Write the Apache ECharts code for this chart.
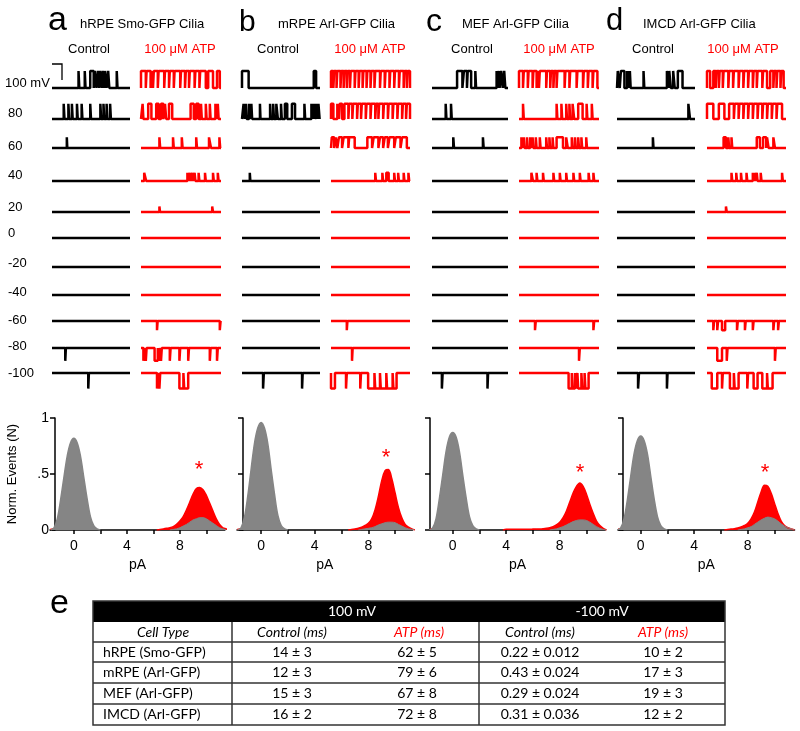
<!DOCTYPE html>
<html lang="en">
<head>
<meta charset="UTF-8">
<title>Cilia channel recordings</title>
<script src="https://cdn.jsdelivr.net/npm/echarts@6/dist/echarts.min.js"></script>
<style>
  html, body { margin: 0; padding: 0; background: #fff; }
  #main { width: 800px; height: 731px; }
</style>
</head>
<body>
<div id="main"></div>
<script>
// ---- trace data: open intervals (time 0..100) per voltage row ----
var voltages = ['100 mV', '80', '60', '40', '20', '0', '-20', '-40', '-60', '-80', '-100'];
var rowAmp = [9.3, 8.3, 5.8, 4.5, 3, 0, -1.5, -3, -5, -7, -8.5];   // pA, unitary current

function openExcept(closings) {
  var ivs = [], t = 0;
  closings.forEach(function (c) { if (c[0] > t) ivs.push([t, c[0]]); t = c[1]; });
  if (t < 100) ivs.push([t, 100]);
  return ivs;
}

var aCtrl = [
  [[34,35],[42,43],[49,53.5],[55,57],[59,60.5],[62,64],[65.5,67],[68,70],[72,73.5],[83,84]],
  [[15,16],[21,22],[25.5,26.5],[32,33],[38,39],[49,50],[62,63],[66,67],[70,71],[74.5,75.5]],
  [[19,19.6]], [], [], [], [], [], [],
  [[17,17.8]],
  [[46.5,47.3]]
];
var aAtp = [
  openExcept([[6,7],[12,13],[15,16],[21,22],[29,30],[35,36],[41,42],[49,50],[55,56],[60,61],[67,68],[73,74],[81,84],[90,95],[98.5,100]]),
  [[2,3],[9,13],[19,22],[25,28],[30,31.5],[35,39],[62,66],[69,72],[75,76],[81,82],[86,87],[93,94],[96,97]],
  [[23,24],[40,41],[51,52],[69,70],[85,87.5],[98,99]],
  [[4,6.5],[58,59],[61,62],[64,65],[67,68],[72,73],[80,81],[90,91],[96,97]],
  [[23,23.8],[89,90]],
  [], [], [],
  [[20,20.8],[98.5,99.5]],
  [[3,4],[6,7],[17,21],[22,23],[25,26],[36,37],[48,49],[59,60],[86,87],[95,96]],
  [[20,21],[23,24],[48,53],[54,59]]
];
var bCtrl = [
  [[0,8.5],[92,95]],
  [[2,3.5],[5,6],[9,9.7],[12,13],[23,23.7],[36,37],[40,41],[44,46],[50,51],[55,58],[64,68],[80,81],[89,90],[91,92],[93,95],[96,97],[98,99.5]],
  [], [[10,10.7]], [], [], [], [], [], [],
  [[27,28],[77,77.8]]
];
var bAtp = [
  openExcept([[3,4],[7,8],[12,13],[16,17],[20,21],[24,25],[30,31],[35,36],[40,41],[45,46],[50,51],[55,56],[62,63],[68,69],[74,75],[80,81],[86,87],[92,93],[96,97]]),
  openExcept([[3,8],[10,11],[14,17],[22,23],[27,28],[33,34],[38,39],[44,45],[50,51],[56,57],[60,61],[66,67],[72,73],[78,79],[84,85],[90,91],[95,96]]),
  [[1,4],[6,8],[10,14],[16,22],[23,30],[46,52],[54,60],[62,66],[68,72],[74,80],[82,88],[90,96]],
  [[56,57],[65,66],[70,73],[80,81],[85,86],[92,93],[98,99]],
  [], [], [], [],
  [[20,20.8]],
  [[26.6,27.4]],
  [[0,5],[19,20],[37,38],[47,55],[56,62],[63,70],[71,78],[79,83]]
];
var cCtrl = [
  [[33,40],[42,46],[47,51.5],[57,58],[85,86],[88,89],[91,93],[95,96.5]],
  [[18,19],[25,26]],
  [[28,29],[67,68]],
  [], [], [], [], [], [], [],
  [[13,14],[73,73.8]]
];
var cAtp = [
  openExcept([[5,6],[11,12],[17,18],[22,23],[25,26],[34,35],[39,40],[43,44],[47,48],[57,58],[63,64],[72,73],[80,81],[86,87],[92,93],[98,100]]),
  [[5,6],[47,48],[53,54],[59,60],[63,64],[67,69],[74,79.5],[84.5,85.5],[91,92]],
  [[3,4],[6,7],[10,11],[14,15],[17,18],[21,22],[26,27],[34,35],[38,39],[42,43],[47,55],[59,61],[66,67],[70,71],[74,75],[78,79],[84,85]],
  [[15.5,17.5],[22,23],[30,31],[43,44],[51,52],[59,60],[68,69],[76,77],[87,88],[93,94]],
  [], [], [], [],
  [[20,21],[93,94]],
  [[75,76]],
  [[62,66],[67,70],[71,73],[74,78],[79,82],[83,87]]
];
var dCtrl = [
  [[1,3.5],[5,9.5],[13,14],[15,16],[16.5,17.5],[34,35],[64,66],[67,69],[72,74],[78,84]],
  [[91.5,93.6]],
  [[46,46.8]],
  [], [], [], [], [], [], [],
  [[27,28.2],[64,64.8]]
];
var dAtp = [
  openExcept([[4,8],[11,12],[15,16],[20,21],[27,28],[33,34],[40,41],[46,47],[52,53],[58,59],[63,64],[70,71],[76,80],[84,85],[88,89],[93,94],[97,100]]),
  openExcept([[8,15],[22,28],[34,35],[40,41],[46,47],[52,53],[58,59],[64,65],[70,71],[76,77],[82,83],[88,89],[95,100]]),
  [[21,24],[27,28],[31,32],[63,67],[71,75],[76,78],[84,86]],
  [[31,32],[37,38],[43,44],[50,51],[58,59],[60,61],[63,64],[68,69],[95,96]],
  [[24,25]],
  [], [], [],
  [[8,9],[13,14],[19,23],[38,39],[48,49],[58,59],[84,85],[90,91]],
  [[13,19],[25,26],[86,87]],
  [[6,13],[19,20],[29,34],[35,40],[51,52],[59,64],[70,76],[77,83]]
];

// ---- histogram data: normalized events per 0.25 pA bin ----
var binStep = 0.25;
var aCtrlClosed = [0.02,0.1,0.27,0.47,0.66,0.78,0.82,0.78,0.66,0.47,0.28,0.12,0.04,0.01];       // from -1.5
var aCtrlOpen = [0.005,0.01,0.02,0.035,0.05,0.07,0.09,0.1,0.11,0.11,0.1,0.08,0.06,0.04,0.02,0.01]; // from 7.5
var aAtpOpen = [0.005,0.01,0.015,0.02,0.03,0.05,0.08,0.12,0.18,0.25,0.32,0.37,0.38,0.36,0.31,0.24,0.17,0.1,0.05,0.02,0.01]; // from 6.5
var bCtrlClosed = [0.02,0.11,0.3,0.54,0.77,0.91,0.96,0.91,0.77,0.54,0.32,0.13,0.04,0.01];
var bCtrlOpen = [0.005,0.01,0.015,0.02,0.03,0.045,0.055,0.065,0.07,0.07,0.065,0.05,0.035,0.02,0.01,0.005];
var bAtpOpen = [0.005,0.01,0.015,0.025,0.04,0.06,0.1,0.18,0.3,0.44,0.53,0.54,0.46,0.33,0.2,0.11,0.05,0.025,0.01]; // from 6.75
var cCtrlClosed = [0.02,0.1,0.28,0.49,0.7,0.83,0.87,0.83,0.7,0.49,0.29,0.12,0.04,0.01];
var cCtrlOpen = [0.005,0.01,0.02,0.03,0.045,0.06,0.075,0.085,0.09,0.09,0.085,0.07,0.05,0.03,0.015,0.005];
var cAtpOpen = [0.006,0.006,0.006,0.006,0.006,0.006,0.007,0.007,0.008,0.009,0.01,0.012,0.015,0.02,0.03,0.045,0.07,0.11,0.17,0.25,0.33,0.39,0.42,0.39,0.32,0.23,0.15,0.08,0.04,0.015]; // from 4
var dCtrlClosed = [0.02,0.1,0.27,0.48,0.68,0.8,0.84,0.8,0.68,0.48,0.28,0.12,0.04,0.01];
var dCtrlOpen = [0.005,0.01,0.02,0.03,0.05,0.07,0.09,0.105,0.115,0.11,0.1,0.08,0.055,0.035,0.02,0.01];
var dAtpOpen = [0.005,0.008,0.012,0.018,0.027,0.04,0.06,0.1,0.16,0.25,0.34,0.4,0.39,0.33,0.24,0.15,0.08,0.04,0.02,0.01]; // from 6.5
var atpClosedTail = [0.012,0.015,0.01];   // from -1.75

var histPanels = [
  { closed: aCtrlClosed, open: aCtrlOpen, atp: aAtpOpen, atpStart: 6.5 },
  { closed: bCtrlClosed, open: bCtrlOpen, atp: bAtpOpen, atpStart: 6.75 },
  { closed: cCtrlClosed, open: cCtrlOpen, atp: cAtpOpen, atpStart: 4 },
  { closed: dCtrlClosed, open: dCtrlOpen, atp: dAtpOpen, atpStart: 6.5 }
];

// ---- table ----
var cellTypes = ['hRPE (Smo-GFP)', 'mRPE (Arl-GFP)', 'MEF (Arl-GFP)', 'IMCD (Arl-GFP)'];
var ctrl100 = ['14 ± 3', '12 ± 3', '15 ± 3', '16 ± 2'];
var atp100 = ['62 ± 5', '79 ± 6', '67 ± 8', '72 ± 8'];
var ctrlNeg100 = ['0.22 ± 0.012', '0.43 ± 0.024', '0.29 ± 0.024', '0.31 ± 0.036'];
var atpNeg100 = ['10 ± 2', '17 ± 3', '19 ± 3', '12 ± 2'];

// ---- layout ----
var colLeft = [52, 141, 242, 331, 432, 519, 617, 707];
var colRight = [130, 221, 320, 410, 508, 599, 695, 786];
var rowBase = [88, 119, 148, 181, 212, 238, 267, 295, 321, 348, 373];
var labelY = [83, 113, 146, 175, 207, 233, 263, 292, 320, 346, 373];
var FONT = '"Liberation Sans", Arial, sans-serif';
var RED = '#ff0000', GRAY = '#858585';

function stepData(ivs, amp) {
  var pts = [[0, 0]];
  ivs.forEach(function (iv) { pts.push([iv[0], 0], [iv[0], amp], [iv[1], amp], [iv[1], 0]); });
  pts.push([100, 0]);
  return pts;
}
// bin centres, closed with a zero point on each side
function binData(start, vals) {
  var pts = [[start - binStep, 0]];
  vals.forEach(function (v, i) { pts.push([start + i * binStep, v]); });
  pts.push([start + vals.length * binStep, 0]);
  return pts;
}

var grids = [], xAxes = [], yAxes = [], series = [];
var traceCols = [aCtrl, aAtp, bCtrl, bAtp, cCtrl, cAtp, dCtrl, dAtp];
traceCols.forEach(function (rows, c) {
  rows.forEach(function (ivs, r) {
    var gi = grids.length;
    grids.push({ left: colLeft[c], width: colRight[c] - colLeft[c], top: rowBase[r] - 22, height: 44, outerBoundsMode: 'none' });
    xAxes.push({ gridIndex: gi, type: 'value', min: 0, max: 100, show: false });
    yAxes.push({ gridIndex: gi, type: 'value', min: -12, max: 12, show: false });
    series.push({
      type: 'line', xAxisIndex: gi, yAxisIndex: gi, data: stepData(ivs, rowAmp[r]),
      symbol: 'none', silent: true, clip: false,
      lineStyle: { color: c % 2 ? RED : '#000', width: 2.5 }
    });
  });
});

// histograms
var histLeft = [50, 237, 430, 618];
var histMin = [-1.8, -1.8, -1.7, -1.7];
var histMax = [11.4, 11.3, 11.4, 11.5];
var histYAxisX = [55, 243, 430, 623];
var histScale = [13.25, 13.4, 13.375, 13.375];
histPanels.forEach(function (p, k) {
  var gi = grids.length;
  var w = (histMax[k] - histMin[k]) * histScale[k];
  grids.push({ left: histLeft[k], width: w, top: 418, height: 112, outerBoundsMode: 'none' });
  xAxes.push({
    gridIndex: gi, type: 'value', min: histMin[k], max: histMax[k],
    name: 'pA', nameLocation: 'middle', nameGap: 28,
    nameTextStyle: { fontFamily: FONT, fontSize: 14, color: '#000' },
    axisLine: { onZero: false, lineStyle: { color: '#000', width: 1.5 } },
    axisTick: { length: 4, lineStyle: { color: '#000', width: 1.5 }, customValues: [0, 2, 4, 6, 8, 10] },
    axisLabel: { fontFamily: FONT, fontSize: 14, color: '#000', margin: 9, customValues: [0, 4, 8] },
    splitLine: { show: false }
  });
  yAxes.push({
    gridIndex: gi, type: 'value', min: 0, max: 1,
    offset: -(histYAxisX[k] - histLeft[k]),
    name: k === 0 ? 'Norm. Events (N)' : '', nameLocation: 'middle', nameGap: 36,
    nameTextStyle: { fontFamily: FONT, fontSize: 13, color: '#000' },
    axisLine: { show: true, onZero: false, lineStyle: { color: '#000', width: 1.5 } },
    axisTick: { show: true, length: 5, lineStyle: { color: '#000', width: 1.5 }, customValues: [0, 0.5, 1] },
    axisLabel: {
      show: k === 0, fontFamily: FONT, fontSize: 14, color: '#000', margin: 6,
      customValues: [0, 0.5, 1],
      formatter: function (v) { return v === 0.5 ? '.5' : String(v); }
    },
    splitLine: { show: false }
  });
  var common = { type: 'line', xAxisIndex: gi, yAxisIndex: gi, symbol: 'none', silent: true, smooth: 0.35 };
  series.push(Object.assign({}, common, {
    data: binData(-1.75, atpClosedTail), lineStyle: { width: 0 }, areaStyle: { color: RED, opacity: 1 }
  }));
  series.push(Object.assign({}, common, {
    data: binData(p.atpStart, p.atp), lineStyle: { color: RED, width: 1.5 }, areaStyle: { color: RED, opacity: 1 }
  }));
  series.push(Object.assign({}, common, {
    data: binData(-1.5, p.closed), lineStyle: { color: GRAY, width: 1.5 }, areaStyle: { color: GRAY, opacity: 1 }
  }));
  series.push(Object.assign({}, common, {
    data: binData(7.5, p.open), lineStyle: { color: GRAY, width: 1 }, areaStyle: { color: GRAY, opacity: 1 }
  }));
});

// ---- text and table graphics ----
var graphic = [];
function txt(t, x, y, size, opts) {
  opts = opts || {};
  graphic.push({
    type: 'text', x: x, y: y, silent: true,
    style: {
      text: t, fill: opts.fill || '#000', align: opts.align || 'left', verticalAlign: 'middle',
      font: (opts.style || '') + ' ' + size + 'px ' + (opts.family || FONT)
    }
  });
}
var letters = [['a', 48, 21, 34], ['b', 239, 22.5, 30], ['c', 426, 22, 32], ['d', 606, 21.5, 31]];
letters.forEach(function (l) { txt(l[0], l[1], l[2], l[3]); });
var titles = [['hRPE Smo-GFP Cilia', 80], ['mRPE Arl-GFP Cilia', 278], ['MEF Arl-GFP Cilia', 462], ['IMCD Arl-GFP Cilia', 643]];
titles.forEach(function (t) { txt(t[0], t[1], 24, 13); });
[89, 278, 472, 653].forEach(function (x) { txt('Control', x, 49, 13, { align: 'center' }); });
[180, 370, 559, 743].forEach(function (x) { txt('100 μM ATP', x, 49, 13, { align: 'center', fill: RED }); });
voltages.forEach(function (v, i) { txt(v, i === 0 ? 5 : 8, labelY[i], 13); });
// scale bar
graphic.push({ type: 'polyline', silent: true, shape: { points: [[52, 64], [62, 64], [62, 80]] }, style: { stroke: '#000', lineWidth: 1.3, fill: null } });
// asterisks
[[199, 470], [386, 458], [580, 473], [765, 473]].forEach(function (p) { txt('*', p[0], p[1], 22, { align: 'center', fill: RED }); });

// table e
txt('e', 50, 604, 34);
var TL = 93, TR = 725, TT = 601, hdrB = 622;
var rowLines = [642, 662, 683, 704], TB = 725;
var TF = 'Lato, "Open Sans", sans-serif';
graphic.push({ type: 'rect', silent: true, shape: { x: TL, y: TT, width: TR - TL, height: hdrB - TT }, style: { fill: '#000' } });
graphic.push({ type: 'rect', silent: true, shape: { x: TL, y: TT, width: TR - TL, height: TB - TT }, style: { fill: null, stroke: '#333', lineWidth: 1.5 } });
rowLines.forEach(function (y) {
  graphic.push({ type: 'line', silent: true, shape: { x1: TL, y1: y, x2: TR, y2: y }, style: { stroke: '#333', lineWidth: 1.5 } });
});
[232, 479].forEach(function (x) {
  graphic.push({ type: 'line', silent: true, shape: { x1: x, y1: hdrB, x2: x, y2: TB }, style: { stroke: '#333', lineWidth: 1.5 } });
});
txt('100 mV', 352, 611.5, 14, { align: 'center', fill: '#fff', family: TF });
txt('-100 mV', 602, 611.5, 14, { align: 'center', fill: '#fff', family: TF });
txt('Cell Type', 163, 632, 14, { align: 'center', style: 'italic', family: TF });
txt('Control (ms)', 292, 632, 14, { align: 'center', style: 'italic', family: TF });
txt('ATP (ms)', 419, 632, 14, { align: 'center', style: 'italic', family: TF, fill: RED });
txt('Control (ms)', 540, 632, 14, { align: 'center', style: 'italic', family: TF });
txt('ATP (ms)', 663, 632, 14, { align: 'center', style: 'italic', family: TF, fill: RED });
var rowMid = [652, 672.5, 693.5, 714.5];
cellTypes.forEach(function (c, i) {
  txt(c, 103, rowMid[i], 14, { family: TF });
  txt(ctrl100[i], 292, rowMid[i], 14, { align: 'center', family: TF });
  txt(atp100[i], 417, rowMid[i], 14, { align: 'center', family: TF });
  txt(ctrlNeg100[i], 540, rowMid[i], 14, { align: 'center', family: TF });
  txt(atpNeg100[i], 663, rowMid[i], 14, { align: 'center', family: TF });
});

var myChart = echarts.init(document.getElementById('main'));
myChart.setOption({
  animation: false,
  grid: grids,
  xAxis: xAxes,
  yAxis: yAxes,
  series: series,
  graphic: graphic
});
</script>
</body>
</html>
